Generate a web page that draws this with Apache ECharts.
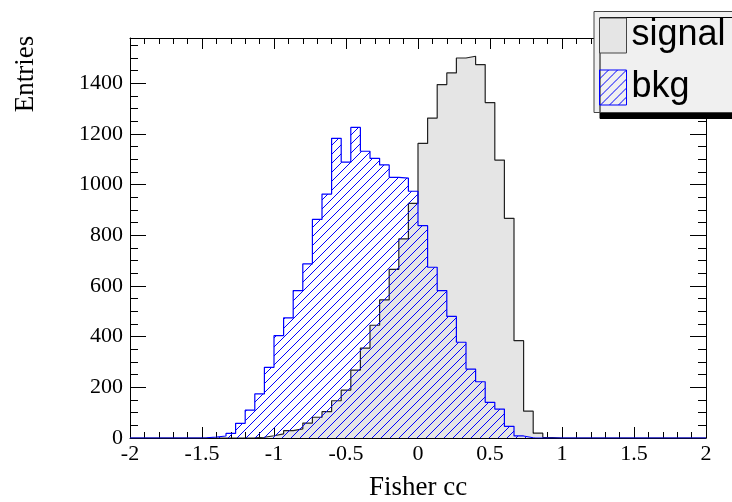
<!DOCTYPE html>
<html><head><meta charset="utf-8">
<script src="https://cdn.jsdelivr.net/npm/echarts@6/dist/echarts.min.js"></script>
<style>html,body{margin:0;padding:0;background:#fff}#c{width:732px;height:502px}</style>
</head><body><div id="c"></div>
<script>
// Histogram definition: 60 bins from -2 to 2
const xMin = -2, xMax = 2, nBins = 60;
const yMax = 1579;
const seriesNames = ['signal', 'bkg'];
const xTitle = 'Fisher cc';
const yTitle = 'Entries';

const signal = [
  0,0,0,0,0,0,0,0,0,0,
  0,0,1,3,9,16,29,36,59,82,
  104,147,189,268,355,445,545,666,786,926,
  1163,1263,1395,1441,1500,1507,1474,1324,1097,867,
  384,106,19,2,0,0,0,0,0,0,
  0,0,0,0,0,0,0,0,0,0
];
const bkg = [
  0,0,0,0,0,0,0,1,4,8,
  18,58,110,174,279,404,474,582,687,863,
  963,1183,1089,1226,1132,1104,1078,1029,1026,974,
  838,674,582,480,378,272,222,141,114,46,
  8,1,0,0,0,0,0,0,0,0,
  0,0,0,0,0,0,0,0,0,0
];

const binW = (xMax - xMin) / nBins;
function stepPoints(vals) {
  const pts = vals.map((v, k) => [xMin + k * binW, v]);
  pts.push([xMax, vals[vals.length - 1]]);
  return pts;
}

function hatchCanvas() {
  const s = 9;
  const c = document.createElement('canvas');
  c.width = s; c.height = s;
  const g = c.getContext('2d');
  g.strokeStyle = '#0000ff';
  g.lineWidth = 1;
  g.beginPath();
  g.moveTo(-1, s + 1); g.lineTo(s + 1, -1);
  g.moveTo(-1, 1); g.lineTo(1, -1);
  g.moveTo(s - 1, s + 1); g.lineTo(s + 1, s - 1);
  g.stroke();
  return c;
}
const hatch = { image: hatchCanvas(), repeat: 'repeat' };

const serif = 'Liberation Serif';
const tickStyle = { show: true, inside: true, lineStyle: { color: '#000', width: 1 } };
const plain = v => String(v);

const chart = echarts.init(document.getElementById('c'), null, { renderer: 'canvas' });
chart.setOption({
  animation: false,
  backgroundColor: '#fff',
  grid: { left: 130, right: 26, top: 38, bottom: 64, containLabel: false },
  xAxis: [
    { type: 'value', position: 'bottom', min: xMin, max: xMax, interval: 0.5,
      axisLine: { show: true, onZero: false, lineStyle: { color: '#000', width: 1 } },
      axisTick: Object.assign({}, tickStyle, { length: 11 }),
      minorTick: { show: true, splitNumber: 5, length: 6, lineStyle: { color: '#000', width: 1 } },
      splitLine: { show: false },
      axisLabel: { margin: 5, fontFamily: serif, fontSize: 22, color: '#000', formatter: plain } },
    { type: 'value', position: 'top', min: xMin, max: xMax, interval: 0.5,
      axisLine: { show: true, onZero: false, lineStyle: { color: '#000', width: 1 } },
      axisTick: Object.assign({}, tickStyle, { length: 11 }),
      minorTick: { show: true, splitNumber: 5, length: 6, lineStyle: { color: '#000', width: 1 } },
      splitLine: { show: false }, axisLabel: { show: false } }
  ],
  yAxis: [
    { type: 'value', position: 'left', min: 0, max: yMax, interval: 200,
      axisLine: { show: true, onZero: false, lineStyle: { color: '#000', width: 1 } },
      axisTick: Object.assign({}, tickStyle, { length: 16 }),
      splitLine: { show: false },
      axisLabel: { margin: 7, fontFamily: serif, fontSize: 22, color: '#000', showMaxLabel: false, formatter: plain } },
    { type: 'value', position: 'left', min: 0, max: yMax, interval: 50,
      axisLine: { show: false, onZero: false }, axisTick: Object.assign({}, tickStyle, { length: 8 }),
      splitLine: { show: false }, axisLabel: { show: false } },
    { type: 'value', position: 'right', min: 0, max: yMax, interval: 200,
      axisLine: { show: true, onZero: false, lineStyle: { color: '#000', width: 1 } },
      axisTick: Object.assign({}, tickStyle, { length: 16 }),
      splitLine: { show: false }, axisLabel: { show: false } },
    { type: 'value', position: 'right', min: 0, max: yMax, interval: 50,
      axisLine: { show: false, onZero: false }, axisTick: Object.assign({}, tickStyle, { length: 8 }),
      splitLine: { show: false }, axisLabel: { show: false } }
  ],
  legend: {
    orient: 'vertical', left: 594, top: 11.5,
    padding: [6, 40, 7, 5], itemGap: 16, itemWidth: 27, itemHeight: 35,
    backgroundColor: '#f0f0f0', borderColor: '#444', borderWidth: 1,
    shadowColor: '#000', shadowOffsetX: 6, shadowOffsetY: 6, shadowBlur: 0,
    selectedMode: false,
    textStyle: { fontFamily: 'Liberation Sans', fontSize: 36, color: '#000' },
    data: [
      { name: seriesNames[0], icon: 'rect', itemStyle: { color: '#e5e5e5', borderColor: '#444', borderWidth: 1 } },
      { name: seriesNames[1], icon: 'rect', itemStyle: { color: hatch, borderColor: '#0000ff', borderWidth: 1 } }
    ]
  },
  graphic: [
    { type: 'text', x: 26, y: 74, rotation: Math.PI / 2,
      style: { text: yTitle, fontFamily: serif, fontSize: 27, fill: '#000', align: 'center', verticalAlign: 'middle' } },
    { type: 'text', x: 418, y: 488,
      style: { text: xTitle, fontFamily: serif, fontSize: 27, fill: '#000', align: 'center', verticalAlign: 'middle' } }
  ],
  series: [
    { name: seriesNames[0], type: 'line', step: 'end', symbol: 'none', data: stepPoints(signal),
      xAxisIndex: 0, yAxisIndex: 0, z: 2,
      lineStyle: { color: '#222', width: 1.2 }, itemStyle: { color: '#e5e5e5' },
      areaStyle: { color: '#e5e5e5', opacity: 1 } },
    { name: seriesNames[1], type: 'line', step: 'end', symbol: 'none', data: stepPoints(bkg),
      xAxisIndex: 0, yAxisIndex: 0, z: 3,
      lineStyle: { color: '#0000ff', width: 1.2 }, itemStyle: { color: '#0000ff' },
      areaStyle: { color: hatch, opacity: 1 } }
  ]
});
</script>
</body></html>
